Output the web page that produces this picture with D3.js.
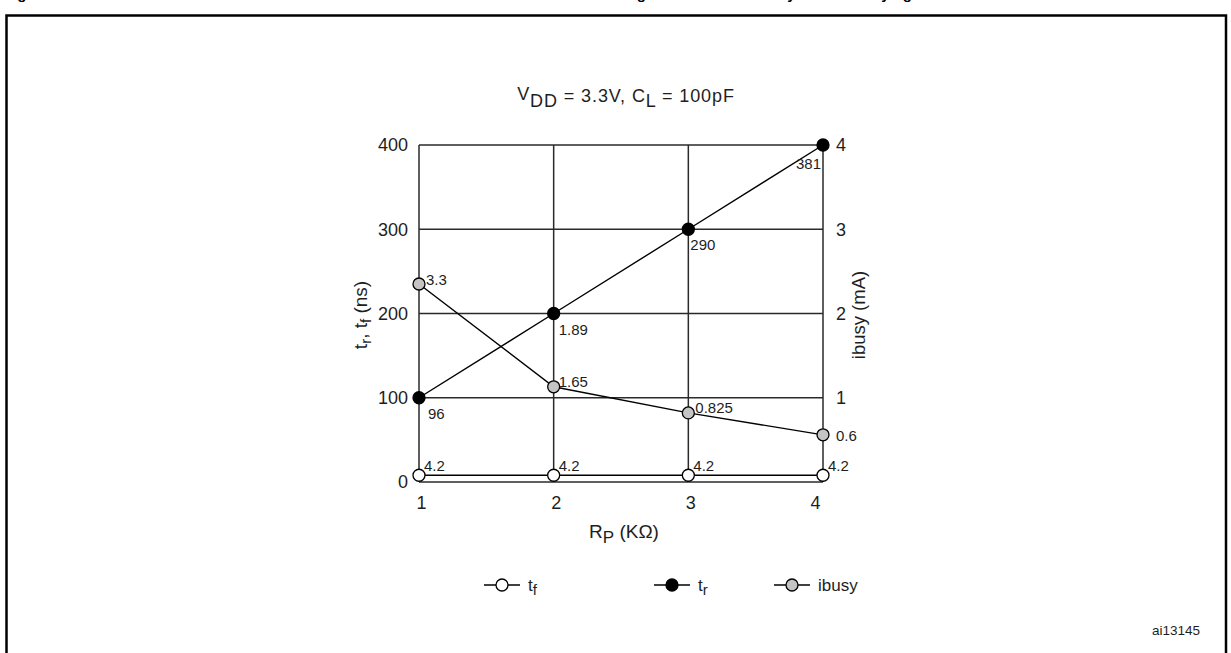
<!DOCTYPE html>
<html><head><meta charset="utf-8">
<script src="https://cdn.jsdelivr.net/npm/d3@7"></script>
<style>
html,body{margin:0;padding:0;background:#fff;}
svg{display:block;font-family:"Liberation Sans",Arial,Helvetica,sans-serif;}
</style></head>
<body>
<svg id="chart" width="1231" height="653"></svg>
<script>
// ---- data ----
const rpValues = [1, 2, 3, 4];
const trValues = [100, 200, 300, 400];          // plotted positions (ns)
const trLabels = ["96", "1.89", "290", "381"];
const tfValues = [8, 8, 8, 8];                  // plotted positions (ns)
const tfLabels = ["4.2", "4.2", "4.2", "4.2"];
const ibusyValues = [2.35, 1.13, 0.82, 0.56];   // plotted positions (mA)
const ibusyLabels = ["3.3", "1.65", "0.825", "0.6"];
const leftTicks = [0, 100, 200, 300, 400];
const rightTicks = [1, 2, 3, 4];
const xTicks = [1, 2, 3, 4];

const svg = d3.select("#chart");
const ink = "#1e1e1e";

// outer frame
svg.append("rect").attr("x", 6.5).attr("y", 15.5).attr("width", 1219.5).attr("height", 660)
  .attr("fill", "none").attr("stroke", "#000").attr("stroke-width", 2.5);

// clipped figure caption (only descenders visible, as in the reference)
const cap = svg.append("g").attr("font-weight", "bold").attr("font-size", 15).attr("fill", "#000");
cap.append("text").attr("x", 4).attr("y", -1.5).text("Figure 22.");
cap.append("text").attr("x", 646).attr("y", -1.5).attr("text-anchor", "end").text("tf/tr timing");
cap.append("text").attr("x", 912).attr("y", -1.5).attr("text-anchor", "end").text("and ibusy with RP varying");

// scales
const x = d3.scaleLinear().domain([1, 4]).range([419, 823]);
const yL = d3.scaleLinear().domain([0, 400]).range([482, 145]);
const yR = d3.scaleLinear().domain([0, 4]).range([482, 145]);

// grid
const grid = svg.append("g").attr("stroke", "#2a2a2a").attr("stroke-width", 1.5);
grid.selectAll("line.h").data(leftTicks).join("line").attr("class", "h")
  .attr("x1", x(1)).attr("x2", x(4)).attr("y1", d => yL(d)).attr("y2", d => yL(d));
grid.selectAll("line.v").data(xTicks).join("line").attr("class", "v")
  .attr("x1", d => x(d)).attr("x2", d => x(d)).attr("y1", yL(400)).attr("y2", yL(0));

// axes
const fmt = d3.format("d");
const axL = svg.append("g").attr("transform", `translate(${x(1)},0)`)
  .call(d3.axisLeft(yL).tickValues(leftTicks).tickSize(0).tickPadding(11).tickFormat(fmt));
const axR = svg.append("g").attr("transform", `translate(${x(4)},0)`)
  .call(d3.axisRight(yR).tickValues(rightTicks).tickSize(0).tickPadding(13).tickFormat(fmt));
const axB = svg.append("g").attr("transform", `translate(0,${yL(0)})`)
  .call(d3.axisBottom(x).tickValues(xTicks).tickSize(0).tickPadding(14).tickFormat(fmt));
[axL, axR, axB].forEach(a => {
  a.select(".domain").remove();
  a.selectAll("text").attr("font-size", 18).attr("fill", ink)
   .attr("font-family", "'Liberation Sans',Arial,sans-serif");
});
axB.selectAll(".tick text").attr("dx", d => d === 4 ? -8 : 2);

// series lines
const lineL = d3.line().x((d, i) => x(rpValues[i])).y(d => yL(d));
const lineR = d3.line().x((d, i) => x(rpValues[i])).y(d => yR(d));
svg.append("path").attr("d", lineL(tfValues)).attr("fill", "none").attr("stroke", "#000").attr("stroke-width", 1.4);
svg.append("path").attr("d", lineL(trValues)).attr("fill", "none").attr("stroke", "#000").attr("stroke-width", 1.4);
svg.append("path").attr("d", lineR(ibusyValues)).attr("fill", "none").attr("stroke", "#000").attr("stroke-width", 1.4);

// markers
function markers(vals, scale, fill) {
  svg.append("g").selectAll("circle").data(vals).join("circle")
    .attr("cx", (d, i) => x(rpValues[i])).attr("cy", d => scale(d))
    .attr("r", 6).attr("fill", fill).attr("stroke", "#000").attr("stroke-width", 1.3);
}
markers(tfValues, yL, "#fff");
markers(ibusyValues, yR, "#c4c4c4");
markers(trValues, yL, "#000");

// data labels
const lab = svg.append("g").attr("font-size", 15).attr("fill", ink);
const trOff = [[9, 21, "start"], [5, 21, "start"], [2, 21, "start"], [-2, 24, "end"]];
lab.selectAll("text.tr").data(trLabels).join("text").attr("class", "tr")
  .attr("x", (d, i) => x(rpValues[i]) + trOff[i][0]).attr("y", (d, i) => yL(trValues[i]) + trOff[i][1])
  .attr("text-anchor", (d, i) => trOff[i][2]).text(d => d);
const ibOff = [[7, 1], [5, 0], [7, 0], [13, 6]];
lab.selectAll("text.ib").data(ibusyLabels).join("text").attr("class", "ib")
  .attr("x", (d, i) => x(rpValues[i]) + ibOff[i][0]).attr("y", (d, i) => yR(ibusyValues[i]) + ibOff[i][1])
  .text(d => d);
lab.selectAll("text.tf").data(tfLabels).join("text").attr("class", "tf")
  .attr("x", (d, i) => x(rpValues[i]) + 5).attr("y", (d, i) => yL(tfValues[i]) - 4)
  .text(d => d);

// chart title with subscripts
const t = svg.append("text").attr("x", 626).attr("y", 102).attr("text-anchor", "middle")
  .attr("font-size", 18).attr("letter-spacing", 0.9).attr("fill", ink);
t.append("tspan").attr("dy", -2).text("V");
t.append("tspan").attr("dy", 7).text("DD");
t.append("tspan").attr("dy", -5).text(" = 3.3V, C");
t.append("tspan").attr("dy", 5).text("L");
t.append("tspan").attr("dy", -5).text(" = 100pF");

// x axis title
const xt = svg.append("text").attr("x", 624).attr("y", 538).attr("text-anchor", "middle")
  .attr("font-size", 19).attr("fill", ink);
xt.append("tspan").text("R");
xt.append("tspan").attr("dy", 5).attr("font-size", 17).text("P");
xt.append("tspan").attr("dy", -5).text(" (K\u03A9)");

// left y title
const yt = svg.append("text").attr("transform", "translate(367,315) rotate(-90)")
  .attr("text-anchor", "middle").attr("font-size", 19).attr("fill", ink);
yt.append("tspan").text("t");
yt.append("tspan").attr("dy", 4).attr("font-size", 15).text("r");
yt.append("tspan").attr("dy", -4).text(", t");
yt.append("tspan").attr("dy", 4).attr("font-size", 15).text("f");
yt.append("tspan").attr("dy", -4).text(" (ns)");

// right y title
svg.append("text").attr("transform", "translate(865,315) rotate(-90)")
  .attr("text-anchor", "middle").attr("font-size", 18.5).attr("fill", ink).text("ibusy (mA)");

// legend
const legendItems = [
  { name: "t", sub: "f", fill: "#fff", cx: 502 },
  { name: "t", sub: "r", fill: "#000", cx: 672 },
  { name: "ibusy", sub: "", fill: "#c4c4c4", cx: 792 }
];
const lg = svg.append("g");
legendItems.forEach(it => {
  const g = lg.append("g");
  g.append("line").attr("x1", it.cx - 18).attr("x2", it.cx + 18).attr("y1", 585).attr("y2", 585)
    .attr("stroke", "#000").attr("stroke-width", 1.4);
  g.append("circle").attr("cx", it.cx).attr("cy", 585).attr("r", 6).attr("fill", it.fill)
    .attr("stroke", "#000").attr("stroke-width", 1.3);
  const tx = g.append("text").attr("x", it.cx + 26).attr("y", 591).attr("font-size", 17).attr("fill", ink);
  tx.append("tspan").text(it.name);
  if (it.sub) tx.append("tspan").attr("dy", 4).attr("font-size", 15).text(it.sub);
});

// figure id
svg.append("text").attr("x", 1152).attr("y", 635).attr("font-size", 13.5).attr("fill", ink).text("ai13145");
</script>
</body></html>
